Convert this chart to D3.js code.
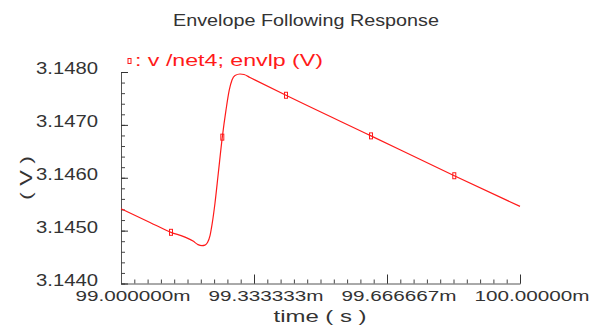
<!DOCTYPE html>
<html>
<head>
<meta charset="utf-8">
<script src="https://cdn.jsdelivr.net/npm/d3@7"></script>
<style>
  html, body { margin: 0; padding: 0; background: #fff; }
  svg { display: block; }
</style>
</head>
<body>
<svg id="chart"></svg>
<script>
// envelope of v(/net4), time in ms, value in V
const timeMs = [99.000, 99.0727, 99.1253, 99.1604, 99.1805, 99.1930, 99.2030, 99.2105, 99.2168, 99.2231,
                99.2281, 99.2356, 99.2439, 99.2539, 99.2632, 99.2714, 99.2782, 99.2857, 99.2982, 99.3083,
                99.3233, 99.4135, 99.6266, 99.8353, 100.000];
const volts = [3.145415, 3.145155, 3.144968, 3.144877, 3.144802, 3.144736, 3.144717, 3.144726, 3.144774, 3.144906,
               3.145113, 3.145523, 3.146089, 3.146768, 3.147283, 3.147660, 3.147849, 3.147934, 3.147962, 3.147953,
               3.147896, 3.147560, 3.146792, 3.146038, 3.145458];

// little square markers along the trace
const markerTimes = [99.1253, 99.2539, 99.4135, 99.6266, 99.8353];
const markerVolts = [3.144968, 3.146768, 3.147560, 3.146792, 3.146038];

const xTicks = [99, 99 + 1 / 3, 99 + 2 / 3, 100];
const xTickLabels = ["99.000000m", "99.333333m", "99.666667m", "100.00000m"];
const yTicks = [3.144, 3.145, 3.146, 3.147, 3.148];
const yTickLabels = ["3.1440", "3.1450", "3.1460", "3.1470", "3.1480"];

const title = "Envelope Following Response";
const legendText = ": v /net4; envlp (V)";
const xTitle = "time ( s )";
const yTitle = "( V )";

const W = 595, H = 328;
const red = "#ff1a1a";
const ink = "#333";
const font = "'Liberation Sans', Arial, sans-serif";

const svg = d3.select("#chart").attr("width", W).attr("height", H);

const x = d3.scaleLinear().domain([99, 100]).range([121, 520]);
const y = d3.scaleLinear().domain([3.144, 3.148]).range([283.5, 72]);

// title
svg.append("text")
    .attr("x", 306).attr("y", 26)
    .attr("text-anchor", "middle")
    .attr("font-family", font).attr("font-size", 17)
    .attr("fill", ink)
    .attr("textLength", 266).attr("lengthAdjust", "spacingAndGlyphs")
    .text(title);

// x axis: minor then major
const xMinor = d3.range(0, 31).map(i => 99 + i / 30);
svg.append("g")
    .attr("transform", `translate(0,${y(3.144)})`)
    .call(d3.axisBottom(x).tickValues(xMinor).tickSizeInner(-4).tickSizeOuter(0).tickFormat(""))
    .call(g => g.selectAll("line").attr("stroke", "#444"))
    .call(g => g.select(".domain").attr("stroke", "#555"));

const xAxis = svg.append("g")
    .attr("transform", `translate(0,${y(3.144)})`)
    .call(d3.axisBottom(x).tickValues(xTicks).tickSizeInner(-9).tickSizeOuter(0)
        .tickFormat((d, i) => xTickLabels[i]));
xAxis.select(".domain").remove();
xAxis.selectAll("line").attr("stroke", "#333");
xAxis.selectAll("text")
    .attr("y", 17).attr("dy", 0).attr("dx", 11.5)
    .attr("font-family", font).attr("font-size", 14)
    .attr("fill", ink)
    .attr("textLength", 115).attr("lengthAdjust", "spacingAndGlyphs");

// y axis: minor then major
const yMinor = d3.range(0, 21).map(i => 3.144 + i * 0.0002);
svg.append("g")
    .attr("transform", `translate(${x(99)},0)`)
    .call(d3.axisLeft(y).tickValues(yMinor).tickSizeInner(-4).tickSizeOuter(0).tickFormat(""))
    .call(g => g.selectAll("line").attr("stroke", "#444"))
    .call(g => g.select(".domain").attr("stroke", "#555"));

const yAxis = svg.append("g")
    .attr("transform", `translate(${x(99)},0)`)
    .call(d3.axisLeft(y).tickValues(yTicks).tickSizeInner(-7).tickSizeOuter(0)
        .tickFormat((d, i) => yTickLabels[i]));
yAxis.select(".domain").remove();
yAxis.selectAll("line").attr("stroke", "#333");
yAxis.selectAll("text")
    .attr("x", -23).attr("y", 1.5).attr("dy", 0)
    .attr("font-family", font).attr("font-size", 17)
    .attr("fill", ink)
    .attr("textLength", 62).attr("lengthAdjust", "spacingAndGlyphs");

// axis titles
svg.append("text")
    .attr("x", 320).attr("y", 322)
    .attr("text-anchor", "middle")
    .attr("font-family", font).attr("font-size", 16)
    .attr("fill", ink)
    .attr("textLength", 93).attr("lengthAdjust", "spacingAndGlyphs")
    .text(xTitle);

svg.append("text")
    .attr("transform", `translate(32,178) rotate(-90)`)
    .attr("text-anchor", "middle")
    .attr("font-family", font).attr("font-size", 16)
    .attr("fill", ink)
    .attr("textLength", 44).attr("lengthAdjust", "spacingAndGlyphs")
    .text(yTitle);

// legend
svg.append("rect")
    .attr("x", 128).attr("y", 58.5).attr("width", 3).attr("height", 5)
    .attr("fill", "none").attr("stroke", red).attr("stroke-width", 1);
svg.append("text")
    .attr("x", 135).attr("y", 66)
    .attr("font-family", font).attr("font-size", 16)
    .attr("fill", red)
    .attr("textLength", 188).attr("lengthAdjust", "spacingAndGlyphs")
    .text(legendText);

// trace
const pts = timeMs.map((t, i) => ({ t, v: volts[i] }));
svg.append("path")
    .datum(pts)
    .attr("fill", "none")
    .attr("stroke", red)
    .attr("stroke-width", 1.2)
    .attr("d", d3.line().x(d => x(d.t)).y(d => y(d.v)).curve(d3.curveMonotoneX));

svg.selectAll(".mark")
    .data(markerTimes.map((t, i) => ({ t, v: markerVolts[i] })))
    .join("rect")
    .attr("class", "mark")
    .attr("x", d => x(d.t) - 1.5)
    .attr("y", d => y(d.v) - 3)
    .attr("width", 3).attr("height", 6)
    .attr("fill", "none")
    .attr("stroke", red)
    .attr("stroke-width", 1);
</script>
</body>
</html>
